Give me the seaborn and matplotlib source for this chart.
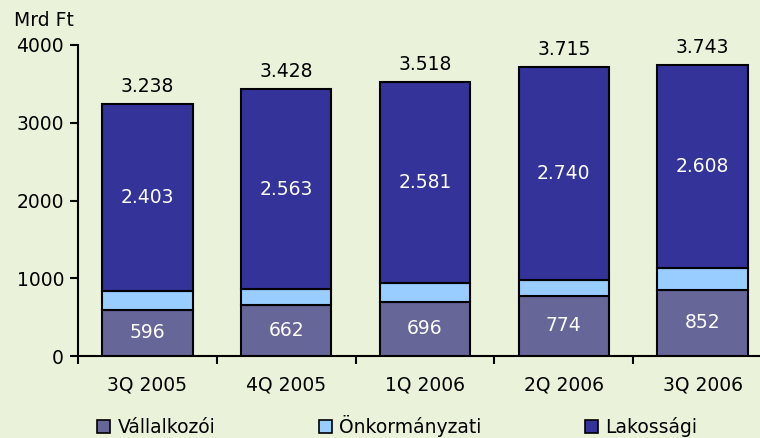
import numpy as np
import pandas as pd
import seaborn as sns
import matplotlib.pyplot as plt
import matplotlib.patches as patches

# adatok (Mrd Ft)
negyedevek = ["3Q 2005", "4Q 2005", "1Q 2006", "2Q 2006", "3Q 2006"]
vallalkozoi = [596, 662, 696, 774, 852]
onkormanyzati = [239, 203, 241, 201, 283]
lakossagi = [2403, 2563, 2581, 2740, 2608]
osszesen = [3238, 3428, 3518, 3715, 3743]

sorozatok = ["Vállalkozói", "Önkormányzati", "Lakossági"]
szinek = ["#666699", "#99CCFF", "#333399"]
hatter = "#EAF2D9"


def hu_szam(v):
    # magyar ezres elvalaszto ponttal
    return f"{v:,}".replace(",", ".")


sns.set_style("ticks")
plt.rcParams["font.family"] = ["DejaVu Sans"]
plt.rcParams["font.size"] = 13
for k in ["text.color", "xtick.color", "ytick.color", "axes.labelcolor", "axes.edgecolor"]:
    plt.rcParams[k] = "black"

fig = plt.figure(figsize=(7.6, 4.38), dpi=100, facecolor=hatter)
ax = fig.add_axes([78 / 760, 82 / 438, 694 / 760, 311 / 438])
ax.set_facecolor(hatter)

also = np.zeros(len(negyedevek))
for nev, ertekek, szin in zip(sorozatok, [vallalkozoi, onkormanyzati, lakossagi], szinek):
    sns.barplot(x=negyedevek, y=ertekek, bottom=also, color=szin, saturation=1,
                width=0.65, edgecolor="black", linewidth=1.5, ax=ax, zorder=3)
    also = also + np.array(ertekek)

for i in range(len(negyedevek)):
    ax.text(i, vallalkozoi[i] / 2, str(vallalkozoi[i]), ha="center", va="center",
            color="white", fontsize=13.5, zorder=5)
    y_lak = vallalkozoi[i] + onkormanyzati[i] + lakossagi[i] / 2
    ax.text(i, y_lak, hu_szam(lakossagi[i]), ha="center", va="center",
            color="white", fontsize=13.5, zorder=5)
    ax.annotate(hu_szam(osszesen[i]), (i, osszesen[i]), xytext=(0, 6),
                textcoords="offset points", ha="center", va="bottom",
                fontsize=13.5, clip_on=False)

ax.set_xlim(-0.5, 4.5)
ax.set_ylim(0, 4000)
ax.set_yticks([0, 1000, 2000, 3000, 4000])
ax.set_xticks(range(len(negyedevek)))
ax.set_xticklabels(negyedevek)
ax.set_xticks(np.arange(-0.5, 5.0, 1.0), minor=True)
ax.tick_params(axis="x", which="major", length=0, pad=14, labelsize=13.5)
ax.tick_params(axis="x", which="minor", length=6, width=1.5, direction="out")
ax.tick_params(axis="y", length=6, width=1.5, labelsize=13.5, pad=4)
ax.set_xlabel("")
ax.set_ylabel("")
for s in ["top", "right"]:
    ax.spines[s].set_visible(False)
for s in ["left", "bottom"]:
    ax.spines[s].set_linewidth(1.5)
    ax.spines[s].set_color("black")

fig.text(14 / 760, 1 - 20 / 438, "Mrd Ft", fontsize=13.5, va="center", ha="left")

kezelok = [patches.Patch(facecolor=c, edgecolor="black", linewidth=1.2) for c in szinek]
fig.legend(kezelok, sorozatok, loc="center", bbox_to_anchor=(0.523, 1 - 426 / 438),
           ncol=3, frameon=False, fontsize=13.5, handlelength=0.7, handleheight=0.7,
           handletextpad=0.4, columnspacing=5.5)

fig.savefig("out.png", dpi=100, facecolor=hatter)
